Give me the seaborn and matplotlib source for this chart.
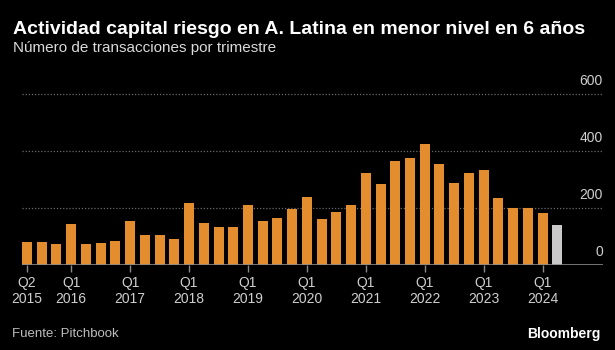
import matplotlib
matplotlib.use("Agg")
import matplotlib.pyplot as plt
import matplotlib.transforms as mtransforms
import seaborn as sns
import pandas as pd

quarters = ["Q2 2015", "Q3 2015", "Q4 2015",
            "Q1 2016", "Q2 2016", "Q3 2016", "Q4 2016",
            "Q1 2017", "Q2 2017", "Q3 2017", "Q4 2017",
            "Q1 2018", "Q2 2018", "Q3 2018", "Q4 2018",
            "Q1 2019", "Q2 2019", "Q3 2019", "Q4 2019",
            "Q1 2020", "Q2 2020", "Q3 2020", "Q4 2020",
            "Q1 2021", "Q2 2021", "Q3 2021", "Q4 2021",
            "Q1 2022", "Q2 2022", "Q3 2022", "Q4 2022",
            "Q1 2023", "Q2 2023", "Q3 2023", "Q4 2023",
            "Q1 2024", "Q2 2024"]
deals = [82, 79, 75,
         145, 75, 76, 85,
         153, 105, 106, 91,
         216, 148, 133, 134,
         211, 156, 166, 195,
         240, 161, 186, 212,
         322, 284, 366, 375,
         424, 354, 286, 324,
         334, 234, 200, 200,
         181, 142]
partial = [False] * 36 + [True]
y_ticks = [0, 200, 400, 600]
tick_quarters = ["Q2 2015", "Q1 2016", "Q1 2017", "Q1 2018", "Q1 2019",
                 "Q1 2020", "Q1 2021", "Q1 2022", "Q1 2023", "Q1 2024"]

title = "Actividad capital riesgo en A. Latina en menor nivel en 6 años"
subtitle = "Número de transacciones por trimestre"
source = "Fuente: Pitchbook"
brand = "Bloomberg"

ORANGE = "#E38D2E"
GREY_BAR = "#C9C9C9"
BG = "#000000"
TXT = "#CFCFCF"

sns.set_theme(style="dark")
plt.rcParams["font.family"] = ["Liberation Sans", "DejaVu Sans"]

df = pd.DataFrame({"q": quarters, "n": deals, "p": partial})
palette = {q: (GREY_BAR if p else ORANGE) for q, p in zip(quarters, partial)}

fig = plt.figure(figsize=(6.15, 3.5), dpi=100, facecolor=BG)
ax = fig.add_axes([22 / 615, 85 / 350, 581 / 615, 176.7 / 350])
ax.set_facecolor(BG)

sns.barplot(data=df, x="q", y="n", hue="q", palette=palette, legend=False,
            width=0.68, saturation=1, linewidth=0, edgecolor="none", ax=ax, order=quarters)

ax.set_xlim(-0.34, 39.1)
ax.set_ylim(0, 620)

for s in ax.spines.values():
    s.set_visible(False)

# gridlines
for v in y_ticks[1:]:
    ax.axhline(v, color="#6a6a6a", lw=0.9, ls=(0, (1, 1.5)), zorder=0)
ax.axhline(0, color="#8a8a8a", lw=1.2, zorder=3)

# y labels inside, right
ax.set_yticks([])
off = mtransforms.ScaledTranslation(0, 6 / 100, fig.dpi_scale_trans)
for v in y_ticks:
    ax.text(1.0, v, str(v), transform=mtransforms.blended_transform_factory(ax.transAxes, ax.transData) + off,
            ha="right", va="bottom", color=TXT, fontsize=10)

# x ticks
pos = [quarters.index(q) for q in tick_quarters]
ax.set_xticks(pos)
ax.set_xticklabels([q.replace(" ", "\n") for q in tick_quarters], color=TXT, fontsize=10,
                   linespacing=1.2)
ax.tick_params(axis="x", length=5, width=1, color="#8a8a8a", pad=3, bottom=True)
ax.set_xlabel("")
ax.set_ylabel("")

fig.text(13 / 615, 1 - 34 / 350, title, color="white", fontsize=14, fontweight="bold",
         ha="left", va="baseline")
fig.text(13 / 615, 1 - 52 / 350, subtitle, color="#DADADA", fontsize=11,
         ha="left", va="baseline")
fig.text(12 / 615, 1 - 337 / 350, source, color="#BDBDBD", fontsize=9.5,
         ha="left", va="baseline")
fig.text(600 / 615, 1 - 338 / 350, brand, color="white", fontsize=10, fontweight="bold",
         ha="right", va="baseline")

fig.savefig("out.png", dpi=100, facecolor=BG)
